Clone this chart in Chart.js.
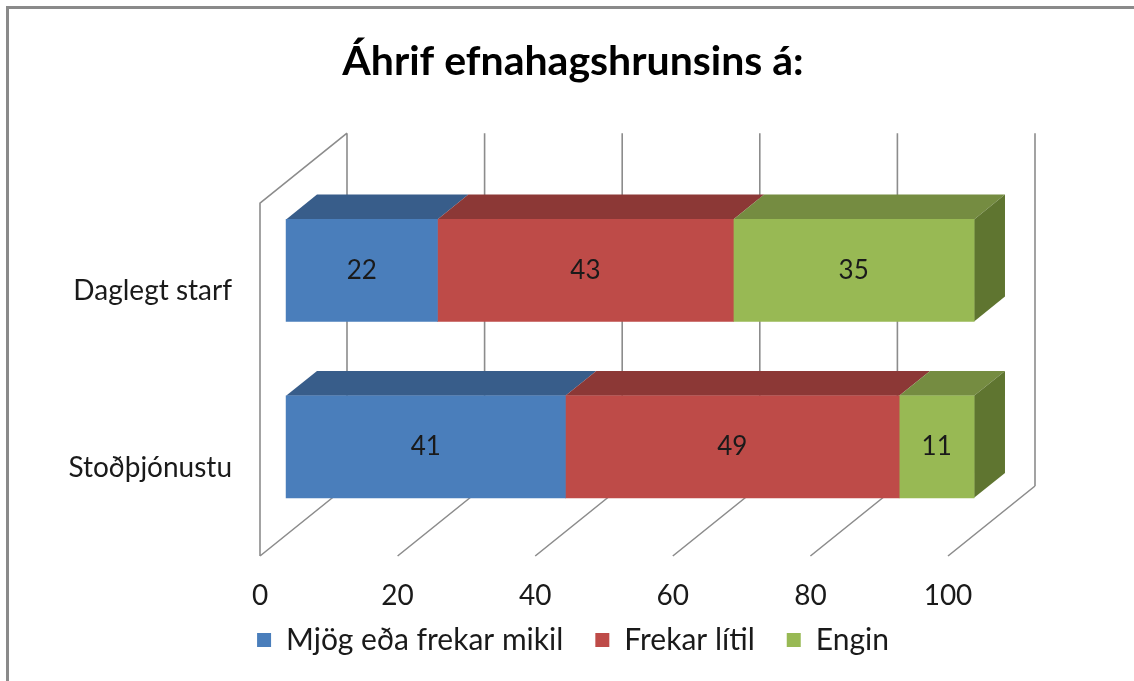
<!DOCTYPE html>
<html>
<head>
<meta charset="utf-8">
<script src="https://cdn.jsdelivr.net/npm/chart.js@4/dist/chart.umd.min.js"></script>
<style>
  html, body { margin: 0; padding: 0; background: #fff; }
  #c { display: block; }
</style>
</head>
<body>
<canvas id="c" width="1134" height="681"></canvas>
<script>
const chartTitle = 'Áhrif efnahagshrunsins á:';
const categories = ['Daglegt starf', 'Stoðþjónustu'];
const seriesNames = ['Mjög eða frekar mikil', 'Frekar lítil', 'Engin'];
const mikil = [22, 41];
const litil = [43, 49];
const engin = [35, 11];
const xTicks = [0, 20, 40, 60, 80, 100];

const FONT = 'Lato';
const frontColors = ['#4A7EBB', '#BE4B48', '#98B954'];
const topColors = ['#385D8A', '#8C3836', '#758C41'];
const sideColors = ['#2E4D73', '#733030', '#5F7530'];

const series = [mikil, litil, engin];
const totals = categories.map((_, i) => series.reduce((s, arr) => s + arr[i], 0));
const pct = arr => arr.map((v, i) => v / totals[i] * 100);

// 3D geometry (styling)
const DEPTH = { x: 87, y: -70 };
const BAR_FRONT = 0.30;
const BAR_DEPTH = 0.355;
const LEGEND_SHIFT = 21;

const threeD = {
  id: 'threeD',
  afterLayout(chart) {
    const lg = chart.legend;
    if (lg) { lg.top -= LEGEND_SHIFT; lg.bottom = chart.height; }
  },
  beforeDraw(chart) {
    const ctx = chart.ctx;
    ctx.save();
    ctx.fillStyle = '#fff';
    ctx.fillRect(0, 0, chart.width, chart.height);
    ctx.strokeStyle = '#8a8a8a';
    ctx.lineWidth = 3;
    ctx.strokeRect(7.5, 7.5, chart.width + 20, chart.height + 20);
    ctx.restore();
  },
  beforeDatasetsDraw(chart) {
    const ctx = chart.ctx;
    const xs = chart.scales.x;
    const a = chart.chartArea;
    ctx.save();
    ctx.strokeStyle = '#8c8c8c';
    ctx.lineWidth = 1.6;
    ctx.beginPath();
    xTicks.forEach(v => {
      const px = xs.getPixelForValue(v);
      ctx.moveTo(px + DEPTH.x, a.top + DEPTH.y);
      ctx.lineTo(px + DEPTH.x, a.bottom + DEPTH.y);
      ctx.moveTo(px, a.bottom);
      ctx.lineTo(px + DEPTH.x, a.bottom + DEPTH.y);
    });
    ctx.moveTo(a.left, a.bottom);
    ctx.lineTo(a.left, a.top);
    ctx.lineTo(a.left + DEPTH.x, a.top + DEPTH.y);
    ctx.stroke();
    ctx.restore();

    ctx.save();
    ctx.translate(BAR_FRONT * DEPTH.x, BAR_FRONT * DEPTH.y);
    const bx = BAR_DEPTH * DEPTH.x, by = BAR_DEPTH * DEPTH.y;
    const n = chart.data.datasets.length;
    chart.data.datasets.forEach((ds, i) => {
      const meta = chart.getDatasetMeta(i);
      meta.data.forEach(el => {
        const left = Math.min(el.base, el.x), right = Math.max(el.base, el.x);
        const top = el.y - el.height / 2, bottom = el.y + el.height / 2;
        if (right - left < 0.5) return;
        ctx.fillStyle = topColors[i];
        ctx.beginPath();
        ctx.moveTo(left, top);
        ctx.lineTo(left + bx, top + by);
        ctx.lineTo(right + bx, top + by);
        ctx.lineTo(right, top);
        ctx.closePath();
        ctx.fill();
        if (i === n - 1) {
          ctx.fillStyle = sideColors[i];
          ctx.beginPath();
          ctx.moveTo(right, top);
          ctx.lineTo(right + bx, top + by);
          ctx.lineTo(right + bx, bottom + by);
          ctx.lineTo(right, bottom);
          ctx.closePath();
          ctx.fill();
        }
      });
    });
  },
  afterDatasetsDraw(chart) {
    const ctx = chart.ctx;
    ctx.fillStyle = '#1a1a1a';
    ctx.font = '26px ' + FONT;
    ctx.textAlign = 'center';
    ctx.textBaseline = 'middle';
    chart.data.datasets.forEach((ds, i) => {
      const meta = chart.getDatasetMeta(i);
      meta.data.forEach((el, j) => {
        const cx = (el.base + el.x) / 2;
        ctx.fillText(String(series[i][j]), cx, el.y);
      });
    });
    ctx.restore();
  }
};

const chart = new Chart(document.getElementById('c'), {
  type: 'bar',
  data: {
    labels: categories,
    datasets: seriesNames.map((name, i) => ({
      label: name,
      data: pct(series[i]),
      backgroundColor: frontColors[i],
      borderWidth: 0,
      barThickness: 102,
      clip: false
    }))
  },
  options: {
    indexAxis: 'y',
    responsive: false,
    animation: false,
    devicePixelRatio: 1,
    layout: { padding: { left: 12, right: 0, top: 0, bottom: 7 } },
    plugins: {
      title: {
        display: true,
        text: chartTitle,
        color: '#000',
        font: { family: FONT, size: 41, weight: 'bold' },
        padding: { top: 37, bottom: 117 }
      },
      legend: {
        position: 'bottom',
        maxHeight: 60,
        labels: {
          color: '#1a1a1a',
          font: { family: FONT, size: 30 },
          boxWidth: 14,
          boxHeight: 14,
          padding: 32
        }
      },
      tooltip: { enabled: false }
    },
    scales: {
      x: {
        stacked: true,
        min: 0,
        max: 100,
        afterBuildTicks: s => { s.ticks = xTicks.map(v => ({ value: v })); },
        grid: { display: false, drawTicks: false },
        border: { display: false },
        ticks: { color: '#1a1a1a', font: { family: FONT, size: 28 }, padding: 23, maxRotation: 0 },
        afterFit: s => { s.height = 58; }
      },
      y: {
        stacked: true,
        offset: true,
        grid: { display: false, drawTicks: false },
        border: { display: false },
        ticks: { color: '#1a1a1a', font: { family: FONT, size: 28 }, padding: 28 },
        afterFit: s => { s.width = 248; }
      },
      yRight: {
        type: 'linear',
        position: 'right',
        display: true,
        grid: { display: false, drawTicks: false },
        border: { display: false },
        ticks: { display: false },
        afterFit: s => { s.width = 186; }
      }
    }
  },
  plugins: [threeD]
});
</script>
</body>
</html>
